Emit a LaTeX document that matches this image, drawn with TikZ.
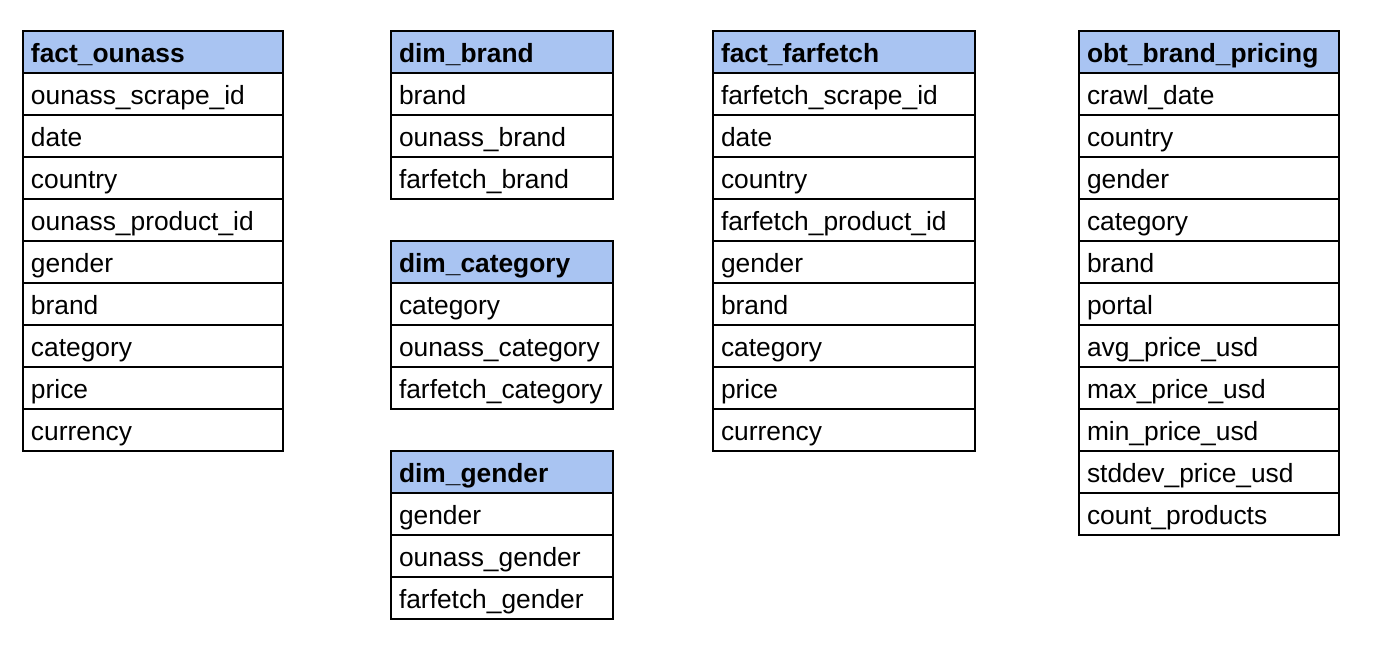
\documentclass[tikz,border=0pt]{standalone}
\usepackage{fontspec}
\setmainfont{Liberation Sans}
\usepackage{tikz}

\definecolor{hdrblue}{HTML}{A9C4F2}

\tikzset{
	cell/.style={draw, line width=1.1pt, anchor=north west, inner sep=0pt, inner xsep=0.16cm, outer sep=0pt,
		text width=#1, text height=0.64cm, text depth=0.2cm, align=left,
		font=\fontsize{15}{18}\selectfont},
	hdr/.style={cell=#1, fill=hdrblue, font=\fontsize{15}{18}\selectfont\bfseries},
}

\begin{document}
\begin{tikzpicture}[x=0.02cm, y=-0.02cm]

	\useasboundingbox (0,0) rectangle (1390,658);

	% fact tables
	\node[hdr=4.88cm] (ounass) at (23,31) {fact\_ounass};
	\foreach \f [count=\i] in {ounass\_scrape\_id, date, country, ounass\_product\_id, gender, brand, category, price, currency}
		\node[cell=4.88cm] (ounass-\i) at (23,{31+42*\i}) {\f};

	\node[hdr=4.92cm] (farfetch) at (713,31) {fact\_farfetch};
	\foreach \f [count=\i] in {farfetch\_scrape\_id, date, country, farfetch\_product\_id, gender, brand, category, price, currency}
		\node[cell=4.92cm] (farfetch-\i) at (713,{31+42*\i}) {\f};

	% dimensions
	\node[hdr=4.12cm] (brand) at (391,31) {dim\_brand};
	\foreach \f [count=\i] in {brand, ounass\_brand, farfetch\_brand}
		\node[cell=4.12cm] (brand-\i) at (391,{31+42*\i}) {\f};

	\node[hdr=4.12cm] (category) at (391,241) {dim\_category};
	\foreach \f [count=\i] in {category, ounass\_category, farfetch\_category}
		\node[cell=4.12cm] (category-\i) at (391,{241+42*\i}) {\f};

	\node[hdr=4.12cm] (gender) at (391,451) {dim\_gender};
	\foreach \f [count=\i] in {gender, ounass\_gender, farfetch\_gender}
		\node[cell=4.12cm] (gender-\i) at (391,{451+42*\i}) {\f};

	% one big table
	\node[hdr=4.88cm] (obt) at (1079,31) {obt\_brand\_pricing};
	\foreach \f [count=\i] in {crawl\_date, country, gender, category, brand, portal, avg\_price\_usd, max\_price\_usd, min\_price\_usd, stddev\_price\_usd, count\_products}
		\node[cell=4.88cm] (obt-\i) at (1079,{31+42*\i}) {\f};

\end{tikzpicture}
\end{document}
